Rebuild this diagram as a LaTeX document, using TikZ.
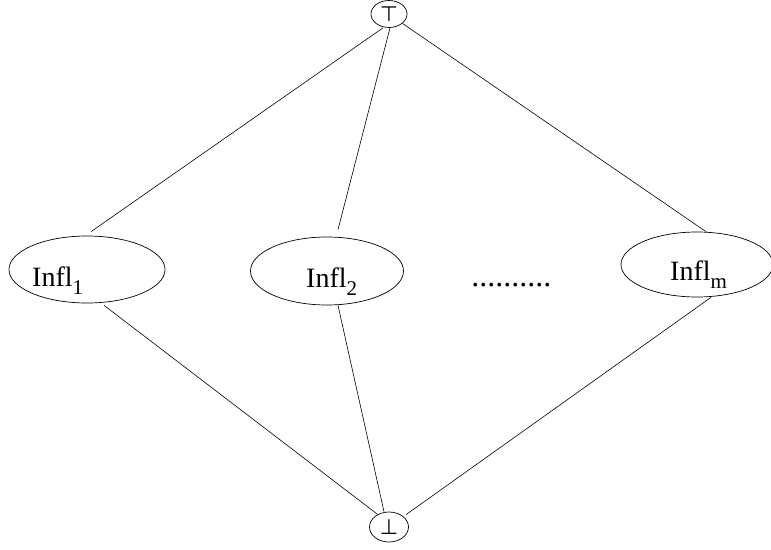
\documentclass[tikz,border=0pt]{standalone}
\usepackage{fontspec}
\setmainfont{Liberation Serif}
\newfontfamily\symfont{DejaVu Sans}
\usetikzlibrary{shapes.geometric}

\newcommand{\infl}[1]{Infl\raisebox{-8pt}{\fontsize{21}{21}\selectfont #1}}

\tikzset{
  oval/.style={draw, ellipse, line width=0.7pt, inner sep=0pt},
  lattice/.style={draw, line width=0.6pt},
  lbl/.style={anchor=base west, inner sep=0pt, font=\fontsize{28}{28}\selectfont},
  sym/.style={font=\symfont\fontsize{21}{21}\selectfont}
}

\begin{document}
\begin{tikzpicture}[x=1pt, y=-1pt]
  \useasboundingbox (0,0) rectangle (771,549);

  % top and bottom elements
  \node[oval, sym, minimum width=36pt, minimum height=27pt] (top) at (389,14) {⊤};
  \node[oval, sym, minimum width=39pt, minimum height=30pt] (bot) at (389,527) {⊥};

  % the influence nodes
  \node[oval, minimum width=156pt, minimum height=67pt] (i1) at (87,269.5) {};
  \node[oval, minimum width=153pt, minimum height=68pt] (i2) at (327,271) {};
  \node[oval, minimum width=152pt, minimum height=65pt] (im) at (697,264.5) {};

  \node[lbl] (l1) at (32,286) {\infl{1}};
  \node[lbl] (l2) at (306,287) {\infl{2}};
  \node[lbl] (lm) at (670,280) {\infl{m}};
  \node[lbl, font=\fontsize{32}{32}\selectfont\itshape] (dots) at (472,286) {..........};

  % edges to the top element
  \draw[lattice] ([xshift=-6pt]top.south) -- ([xshift=4pt,yshift=4pt]i1.north);
  \draw[lattice] ([xshift=1pt]top.south) -- ([xshift=11pt,yshift=7pt]i2.north);
  \draw[lattice] (top.325) -- ([xshift=9pt]im.north);

  % edges to the bottom element
  \draw[lattice] ([xshift=17pt,yshift=-2pt]i1.south) -- (bot.132);
  \draw[lattice] ([xshift=11pt]i2.south) -- ([xshift=-5pt]bot.north);
  \draw[lattice] ([xshift=14pt]im.south) -- ([xshift=17pt,yshift=-3pt]bot.north);
\end{tikzpicture}
\end{document}
